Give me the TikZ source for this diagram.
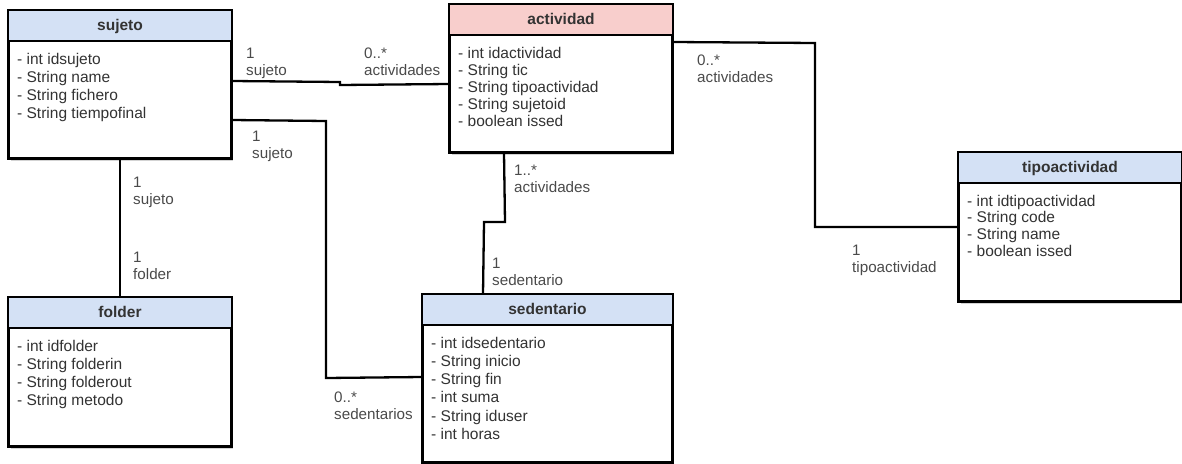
\documentclass[tikz,border=0pt]{standalone}
\usepackage{fontspec}
\setmainfont{Liberation Sans}[Ligatures=CommonOff]
\usetikzlibrary{calc,shadows}

\definecolor{hdrblue}{HTML}{D4E1F5}
\definecolor{hdrpink}{HTML}{F8CECC}
\definecolor{txtdark}{HTML}{333333}
\definecolor{txtlbl}{HTML}{4A4A4A}

% UML class: #1 name, #2/#3 centre, #4 width, #5 height,
% #6 header colour, #7 title, #8 attribute line spacing, #9 attributes
\newcommand{\umlclass}[9]{%
  \node[classbody, minimum width=#4pt, minimum height=#5pt] (#1) at (#2,#3) {};
  \fill[#6] (#1.north west) rectangle ($(#1.north east)+(0,31)$);
  \draw[frame] (#1.north west) rectangle (#1.south east);
  \draw[frame] ($(#1.north west)+(0,31)$) -- ($(#1.north east)+(0,31)$);
  \node[classtitle] (#1-title) at ($(#1.north)+(0,20)$) {#7};
  \foreach \txt [count=\i] in {#9}
    \node[attr] (#1-attr\i) at ($(#1.north west)+(9,{54+#8*(\i-1)})$) {\txt};
}

% Two-line multiplicity / role label: #1 name, #2/#3 first baseline
\newcommand{\multlabel}[5]{%
  \node[mult] (#1-m) at (#2,#3) {#4};
  \node[mult] (#1-r) at (#2,{#3+17.5}) {#5};
}

\begin{document}
\begin{tikzpicture}[x=1pt,y=-1pt,
  classbody/.style={draw=black, line width=2pt, fill=white, inner sep=0pt,
    drop shadow={shadow xshift=2pt, shadow yshift=-3pt, opacity=0.35}},
  frame/.style={draw=black, line width=2pt},
  conn/.style={draw=black, line width=2.3pt},
  classtitle/.style={anchor=base, inner sep=0pt,
    font=\fontsize{15.5}{18}\selectfont\bfseries, text=txtdark},
  attr/.style={anchor=base west, inner sep=0pt,
    font=\fontsize{15.5}{18}\selectfont, text=txtdark},
  mult/.style={anchor=base west, inner sep=0pt,
    font=\fontsize{15.2}{18}\selectfont, text=txtlbl}]

\useasboundingbox (0,0) rectangle (1182,463);

% classes
\umlclass{sujeto}{120}{84.5}{222}{147}{hdrblue}{sujeto}{18.3}
  {- int idsujeto, - String name, - String fichero, - String tiempofinal}
\umlclass{actividad}{561}{78.5}{222}{147}{hdrpink}{actividad}{17.1}
  {- int idactividad, - String tic, - String tipoactividad, - String sujetoid, - boolean issed}
\umlclass{tipoactividad}{1070}{227}{222}{148}{hdrblue}{tipoactividad}{16.7}
  {- int idtipoactividad, - String code, - String name, - boolean issed}
\umlclass{folder}{120}{372}{222}{148}{hdrblue}{folder}{18.3}
  {- int idfolder, - String folderin, - String folderout, - String metodo}
\umlclass{sedentario}{547.5}{378.5}{249}{167}{hdrblue}{sedentario}{18.3}
  {- int idsedentario, - String inicio, - String fin, - int suma, - String iduser, - int horas}

% associations
\draw[conn] ($(sujeto.north east)+(0,71)$) -- (340,82) -- (340,85)
  -- ($(actividad.north west)+(0,80)$);
\draw[conn] ($(sujeto.north east)+(0,110)$) -- (326,121) -- (326,378)
  -- ($(sedentario.north west)+(0,83)$);
\draw[conn] (sujeto.south) -- (folder.north);
\draw[conn] ($(actividad.south west)+(55,0)$) -- (505,222) -- (484,222)
  -- ($(sedentario.north west)+(61,0)$);
\draw[conn] ($(actividad.north east)+(0,38)$) -- (815,43) -- (815,227)
  -- (tipoactividad.west);

% multiplicities and roles
\multlabel{sa1}{246}{58}{1}{sujeto}
\multlabel{sa2}{364}{58}{0..*}{actividades}
\multlabel{ss1}{252}{141}{1}{sujeto}
\multlabel{ss2}{334}{402}{0..*}{sedentarios}
\multlabel{sf1}{133}{187}{1}{sujeto}
\multlabel{sf2}{133}{262}{1}{folder}
\multlabel{as1}{514}{175}{1..*}{actividades}
\multlabel{as2}{492}{268}{1}{sedentario}
\multlabel{at1}{697}{65}{0..*}{actividades}
\multlabel{at2}{852}{255}{1}{tipoactividad}

\end{tikzpicture}
\end{document}
